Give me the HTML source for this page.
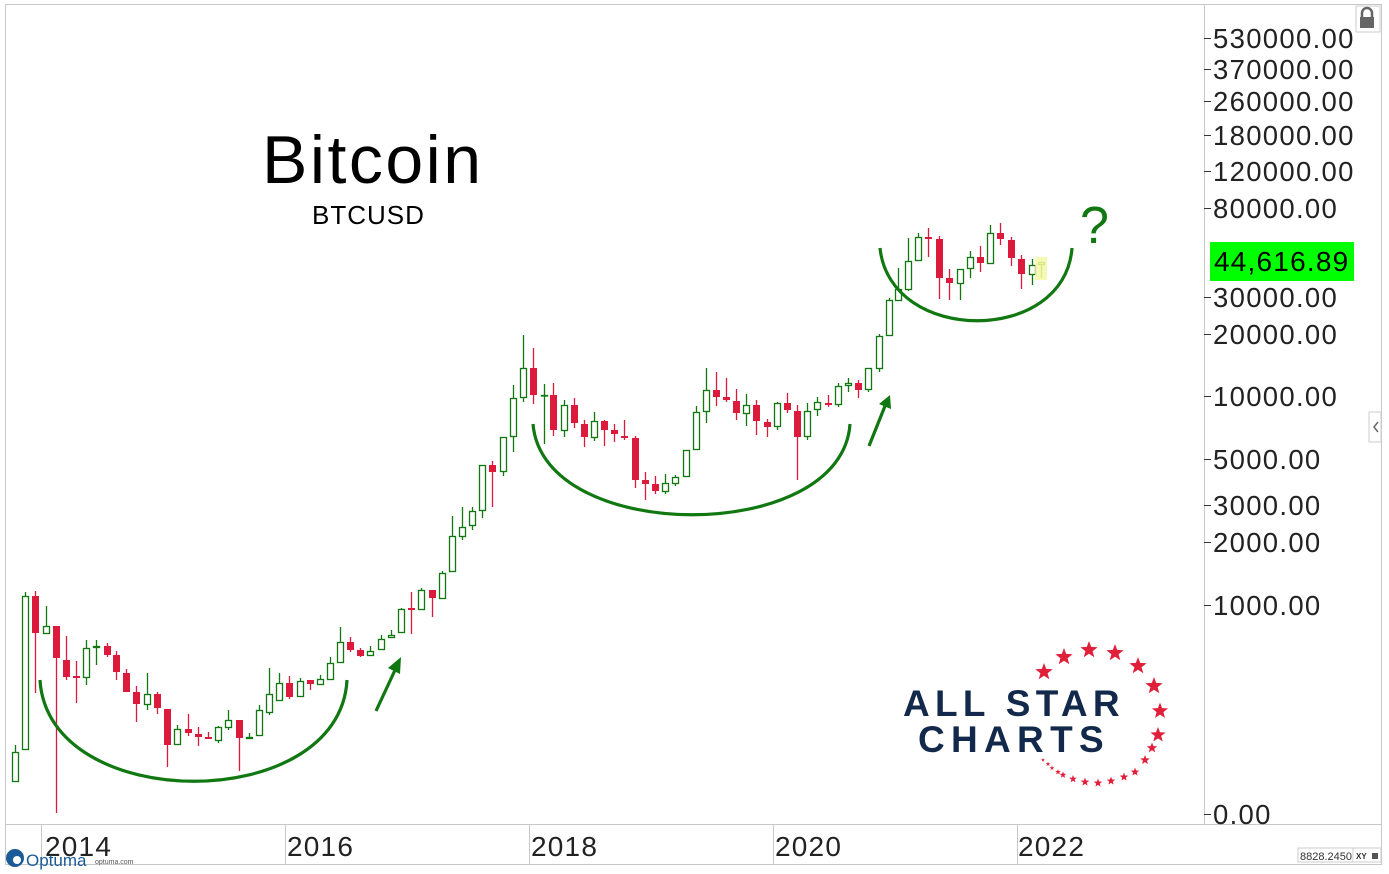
<!DOCTYPE html>
<html><head><meta charset="utf-8"><style>
body{margin:0;background:#fff;width:1389px;height:874px;overflow:hidden;font-family:"Liberation Sans","DejaVu Sans",sans-serif}
svg{position:absolute;left:0;top:0}
</style></head><body>
<svg id="s" width="1389" height="874" xmlns="http://www.w3.org/2000/svg">
<rect x="5.5" y="4.5" width="1376" height="860" fill="#fff" stroke="#c8c8c8"/>
<line x1="1204.5" y1="4" x2="1204.5" y2="824" stroke="#c8c8c8"/>
<line x1="5" y1="824.5" x2="1381" y2="824.5" stroke="#c8c8c8"/>
<g stroke="#c8c8c8"><line x1="41.5" y1="824" x2="41.5" y2="864"/><line x1="285.5" y1="824" x2="285.5" y2="864"/><line x1="529.5" y1="824" x2="529.5" y2="864"/><line x1="773.5" y1="824" x2="773.5" y2="864"/><line x1="1017.5" y1="824" x2="1017.5" y2="864"/></g>
<g font-size="28" fill="#222" letter-spacing="1.2"><text x="45" y="856">2014</text><text x="287" y="856">2016</text><text x="531" y="856">2018</text><text x="775" y="856">2020</text><text x="1018" y="856">2022</text></g>
<g font-size="27.5" fill="#222" id="yl" letter-spacing="1.3"></g>
<rect x="1210" y="242" width="144" height="39" fill="#00ff00"/>
<text x="1214" y="271" font-size="28" fill="#000" letter-spacing="1.2">44,616.89</text>
<rect x="1356" y="6" width="24" height="26" fill="#fff" stroke="#ccc"/>
<rect x="1360" y="17" width="14" height="11" fill="#666"/><path d="M1362 17v-4a5 5 0 0 1 10 0v4" fill="none" stroke="#666" stroke-width="2.5"/>
<rect x="1369" y="412" width="12" height="30" fill="#fff" stroke="#ccc"/><path d="M1378 422l-4 5 4 5" fill="none" stroke="#666" stroke-width="1.5"/>
<rect x="1298" y="848" width="55" height="14" fill="#fff" stroke="#ccc"/><text x="1300" y="860" font-size="11" fill="#333">8828.2450</text>
<rect x="1353" y="848" width="28" height="14" fill="#fff" stroke="#ccc"/><text x="1356" y="859" font-size="8" font-weight="bold" fill="#333">XY</text><rect x="1372" y="853" width="6" height="6" fill="#555"/>
<circle cx="15" cy="858" r="9" fill="#1a5a96"/><circle cx="17" cy="860" r="4" fill="#fff"/>
<text x="26" y="866" font-size="17" fill="#1a5a96">Optuma</text><text x="95" y="864" font-size="7" fill="#555">optuma.com</text>
<line x1="140" y1="864.5" x2="1381" y2="864.5" stroke="#c8c8c8"/>
<text x="262" y="183" font-size="68" fill="#000" letter-spacing="2.5">Bitcoin</text>
<text x="312" y="224" font-size="26" fill="#000" letter-spacing="1">BTCUSD</text>
<g id="c"></g>
<rect x="1035" y="257" width="12" height="23" fill="#f4f8a0" opacity="0.8"/>
<g fill="none" stroke="#117711" stroke-width="3.2">
<path d="M40 680 C48 815 340 815 347 680"/>
<path d="M533 424 C543 545 842 545 850 424"/>
<path d="M880 248 C890 345 1065 345 1072 248"/>
<line x1="376" y1="711" x2="396" y2="668"/><line x1="869" y1="446" x2="885" y2="406"/>
</g>
<path d="M401 657 L388 668 L400 674Z M890 395 L879 404 L891 409Z" fill="#117711"/>
<text x="1080" y="243" font-size="52" fill="#117711">?</text>
<g id="st" fill="#e0203a"></g>
<g font-size="37" font-weight="bold" fill="#13294b"><text x="903" y="716" letter-spacing="5.3">ALL STAR</text><text x="918" y="752" letter-spacing="6.3">CHARTS</text></g>
</svg>
<script>
var NS="http://www.w3.org/2000/svg";
function el(p,t,a,txt){var e=document.createElementNS(NS,t);for(var k in a)e.setAttribute(k,a[k]);if(txt)e.textContent=txt;p.appendChild(e);return e;}
var yl=document.getElementById('yl');
[["530000.00",38],["370000.00",69],["260000.00",101],["180000.00",135],["120000.00",171],["80000.00",208],["30000.00",297],["20000.00",334],["10000.00",396],["5000.00",459],["3000.00",505],["2000.00",542],["1000.00",605],["0.00",814]].forEach(function(l){
el(yl,'text',{x:1213,y:l[1]+10},l[0]);el(yl,'line',{x1:1204,x2:1211,y1:l[1]+0.5,y2:l[1]+0.5,stroke:'#333'});});
var D=[
[15,'g',752,782,745,782],[25,'g',596,750,592,750],[35,'r',596,633,591,693],[46,'g',626,634,606,634],[56,'r',626,658,626,813],[66,'r',660,677,636,680],[76,'r',676,678,661,703],[86,'g',648,678,640,685],[96,'g',646,648,640,665],[107,'r',646,655,643,657],[116,'r',655,672,651,680],[126,'r',673,692,669,692],[136,'r',692,704,686,722],[147,'g',694,705,673,710],[157,'r',694,708,692,714],[167,'r',709,745,709,767],[177,'g',729,745,725,745],[188,'r',729,733,714,736],[198,'r',734,737,727,746],[208,'r',737,739,732,739],[218,'g',727,741,726,743],[228,'g',720,728,710,730],[239,'r',720,738,720,771],[249,'g',737,739,733,739],[259,'g',710,736,705,736],[269,'g',694,713,668,715],[279,'g',683,701,673,701],[289,'r',683,697,676,699],[300,'g',681,697,678,697],[310,'r',680,684,680,690],[320,'g',679,685,675,685],[330,'g',663,680,657,680],[340,'g',642,663,627,663],[350,'r',642,650,637,652],[360,'r',650,656,648,657],[370,'g',651,656,646,656],[381,'g',639,650,635,650],[391,'g',635,638,630,638],[401,'g',609,633,608,633],[411,'r',608,610,592,634],[421,'g',590,610,588,610],[432,'r',590,598,590,617],[442,'g',573,599,571,599],
[452,'g',536,572,516,572],[462,'g',527,537,507,540],[472,'g',511,526,507,530],[482,'g',465,511,465,518],[492,'r',465,472,461,507],[503,'g',437,472,437,476],[513,'g',398,437,385,452],[523,'g',368,398,335,402],[533,'r',368,395,348,404],[544,'g',395,396,384,444],[553,'r',395,430,383,436],[564,'g',405,431,400,437],[574,'r',405,423,398,428],[584,'r',424,437,420,447],[594,'g',421,438,412,441],[604,'r',421,430,420,446],[614,'r',430,434,424,442],[624,'r',436,438,420,440],[635,'r',438,480,436,488],[645,'r',480,484,472,500],[655,'r',484,491,476,494],[665,'g',483,492,474,494],[675,'g',477,484,475,486],[686,'g',450,477,450,477],[696,'g',412,450,406,450],[706,'g',390,412,368,423],[716,'r',390,397,372,406],[726,'r',397,400,378,402],[736,'r',401,413,389,420],[746,'g',405,414,394,426],[756,'r',405,421,400,435],[767,'r',422,427,419,437],[777,'g',403,427,402,430],[787,'r',403,410,393,413],[797,'r',411,437,405,480],[807,'g',411,437,403,440],[817,'g',402,410,397,416],[828,'r',403,405,395,407],[838,'g',386,405,383,407],[848,'g',383,386,378,392],[858,'r',383,390,380,398],[868,'g',368,390,368,392],[879,'g',336,369,334,372],[889,'g',300,336,298,336],
[898,'g',289,301,268,301],[908,'g',261,290,238,291],[918,'g',237,261,233,261],[928,'r',237,239,228,257],[939,'r',239,278,236,299],[949,'r',278,283,269,300],[960,'g',269,284,269,300],[970,'g',257,269,251,278],[980,'r',257,263,246,272],[990,'g',233,264,225,264],[1000,'r',233,239,223,245],[1011,'r',240,258,237,266],[1021,'r',259,274,255,289],[1032,'g',265,275,259,285],[1041,'y',262,265,262,278]];
var c=document.getElementById('c');
D.forEach(function(d){var x=d[0],col=d[1]=='g'?'#117711':d[1]=='r'?'#dc1a3c':'#66aa22';
el(c,'line',{x1:x+0.5,x2:x+0.5,y1:d[4],y2:d[5],stroke:col,'stroke-width':1.3});
var h=Math.max(d[3]-d[2],1.5);
if(d[1]=='r')el(c,'rect',{x:x-3,y:d[2],width:7,height:h,fill:col});
else el(c,'rect',{x:x-2.5,y:d[2]+0.5,width:6,height:h-1,fill:'#fff',stroke:col,'stroke-width':1.3});});
var st=document.getElementById('st');
[[1044,672,9],[1064,657,9],[1089,650,9],[1115,653,9],[1138,666,9],[1154,686,9],[1160,711,8.5],[1158,735,8],[1152,748,5.5],[1145,760,5],[1135,772,4.5],[1124,777,4.5],[1111,781,4.5],[1098,783,4.5],[1085,782,4.5],[1073,779,4],[1063,775,3.5],[1058,772,3],[1052,768,2.5],[1048,764,2.5],[1043,760,2]].forEach(function(s){
var p=[];for(var i=0;i<10;i++){var r=i%2?s[2]*0.42:s[2],a=-Math.PI/2+i*Math.PI/5;p.push((s[0]+r*Math.cos(a)).toFixed(1)+','+(s[1]+r*Math.sin(a)).toFixed(1));}
el(st,'polygon',{points:p.join(' ')});});
</script>
</body></html>
